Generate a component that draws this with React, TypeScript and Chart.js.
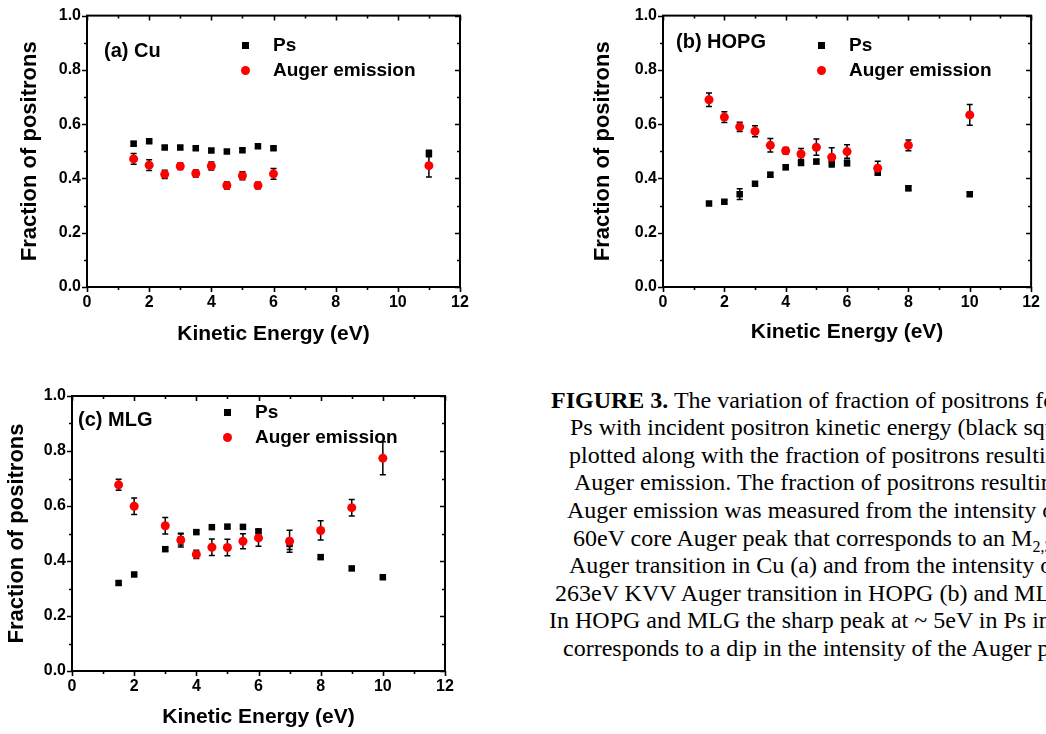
import React, { useEffect, useRef } from 'react';
import { Chart, registerables } from 'chart.js';

Chart.register(...registerables);

// ---------- data ----------
const xTickValues = [0, 2, 4, 6, 8, 10, 12];
const xTickLabels = ['0', '2', '4', '6', '8', '10', '12'];
const yTickValues = [0, 0.2, 0.4, 0.6, 0.8, 1.0];
const yTickLabels = ['0.0', '0.2', '0.4', '0.6', '0.8', '1.0'];

const seriesNames = ['Ps', 'Auger emission'];

const cuEnergy = [1.5, 2, 2.5, 3, 3.5, 4, 4.5, 5, 5.5, 6, 11];
const cuPs = [0.528, 0.537, 0.514, 0.514, 0.511, 0.503, 0.499, 0.504, 0.519, 0.511, 0.492];
const cuPsErr = [0.008, 0.006, 0.006, 0.006, 0.006, 0.006, 0.006, 0.006, 0.006, 0.006, 0.012];
const cuAuger = [0.472, 0.449, 0.415, 0.445, 0.418, 0.446, 0.374, 0.41, 0.374, 0.417, 0.447];
const cuAugerErr = [0.02, 0.02, 0.015, 0.012, 0.013, 0.015, 0.013, 0.015, 0.012, 0.02, 0.042];

const hopgEnergy = [1.5, 2, 2.5, 3, 3.5, 4, 4.5, 5, 5.5, 6, 7, 8, 10];
const hopgPs = [0.308, 0.314, 0.342, 0.38, 0.414, 0.441, 0.458, 0.462, 0.458, 0.457, 0.424, 0.364, 0.342];
const hopgPsErr = [0.006, 0.006, 0.02, 0.008, 0.008, 0.008, 0.01, 0.008, 0.015, 0.01, 0.012, 0.008, 0.008];
const hopgAuger = [0.69, 0.626, 0.59, 0.574, 0.522, 0.502, 0.49, 0.515, 0.478, 0.499, 0.438, 0.522, 0.634];
const hopgAugerErr = [0.025, 0.02, 0.017, 0.02, 0.025, 0.012, 0.02, 0.03, 0.035, 0.025, 0.025, 0.02, 0.038];

const mlgEnergy = [1.5, 2, 3, 3.5, 4, 4.5, 5, 5.5, 6, 7, 8, 9, 10];
const mlgPs = [0.32, 0.351, 0.443, 0.478, 0.505, 0.523, 0.525, 0.524, 0.508, 0.462, 0.414, 0.373, 0.341];
const mlgPsErr = [0.006, 0.006, 0.006, 0.02, 0.006, 0.006, 0.006, 0.006, 0.006, 0.02, 0.006, 0.006, 0.006];
const mlgAuger = [0.677, 0.599, 0.528, 0.476, 0.424, 0.45, 0.449, 0.472, 0.484, 0.472, 0.511, 0.594, 0.774];
const mlgAugerErr = [0.02, 0.03, 0.03, 0.025, 0.015, 0.03, 0.03, 0.027, 0.03, 0.04, 0.035, 0.03, 0.06];

const captionLines: { t: string; bold?: boolean; sub?: boolean }[][] = [
  [{ t: 'FIGURE 3.', bold: true }, { t: ' The variation of fraction of positrons for' }],
  [{ t: 'Ps with incident positron kinetic energy (black squares' }],
  [{ t: 'plotted along with the fraction of positrons resulting' }],
  [{ t: 'Auger emission. The fraction of positrons resulting' }],
  [{ t: 'Auger emission was measured from the intensity of' }],
  [{ t: '60eV core Auger peak that corresponds to an M' }, { t: '2,3', sub: true }],
  [{ t: 'Auger transition in Cu (a) and from the intensity of' }],
  [{ t: '263eV KVV Auger transition in HOPG (b) and MLG' }],
  [{ t: 'In HOPG and MLG the sharp peak at ~ 5eV in Ps in' }],
  [{ t: 'corresponds to a dip in the intensity of the Auger peak' }],
];

// ---------- styling / layout ----------
const SANS = "'Liberation Sans', Arial, Helvetica, sans-serif";
const SERIF = "'Liberation Serif', 'Times New Roman', Times, serif";
const X_TITLE_SIZE = 21;
const Y_TITLE_SIZE = 22;
const TICK_SIZE = 16;

const errorBarPlugin = {
  id: 'errorBars',
  beforeDatasetsDraw(chart: any) {
    const { ctx } = chart;
    const xs = chart.scales.x;
    const ys = chart.scales.y;
    ctx.save();
    ctx.strokeStyle = '#000';
    ctx.lineWidth = 1.5;
    chart.data.datasets.forEach((ds: any) => {
      const errs: number[] | undefined = ds.errors;
      if (!errs) return;
      ds.data.forEach((p: any, j: number) => {
        const e = errs[j];
        const px = xs.getPixelForValue(p.x);
        const y1 = ys.getPixelForValue(p.y + e);
        const y2 = ys.getPixelForValue(p.y - e);
        ctx.beginPath();
        ctx.moveTo(px, y1);
        ctx.lineTo(px, y2);
        ctx.moveTo(px - 3, y1);
        ctx.lineTo(px + 3, y1);
        ctx.moveTo(px - 3, y2);
        ctx.lineTo(px + 3, y2);
        ctx.stroke();
      });
    });
    ctx.restore();
  },
};

const frameTicksPlugin = {
  id: 'frameTicks',
  afterDraw(chart: any) {
    const { ctx, chartArea } = chart;
    const { left, right, top, bottom } = chartArea;
    const xs = chart.scales.x;
    const ys = chart.scales.y;
    const xMaj: number[] = xs.ticks.map((t: any) => t.value);
    const yMaj: number[] = ys.ticks.map((t: any) => t.value);
    const mids = (a: number[]) => a.slice(1).map((v, i) => (v + a[i]) / 2);
    ctx.save();
    ctx.strokeStyle = '#000';
    ctx.lineWidth = 1.6;
    const drawX = (vals: number[], len: number) => {
      vals.forEach((v) => {
        const px = Math.round(xs.getPixelForValue(v)) + 0.5;
        ctx.beginPath();
        ctx.moveTo(px, bottom);
        ctx.lineTo(px, bottom + len);
        ctx.moveTo(px, top);
        ctx.lineTo(px, top + len);
        ctx.stroke();
      });
    };
    const drawY = (vals: number[], len: number) => {
      vals.forEach((v) => {
        const py = Math.round(ys.getPixelForValue(v)) + 0.5;
        ctx.beginPath();
        ctx.moveTo(left, py);
        ctx.lineTo(left - len, py);
        ctx.moveTo(right, py);
        ctx.lineTo(right - len, py);
        ctx.stroke();
      });
    };
    drawX(xMaj, 5);
    drawX(mids(xMaj), 3);
    drawY(yMaj, 5);
    drawY(mids(yMaj), 3);
    ctx.lineWidth = 2;
    ctx.strokeRect(left, top, right - left, bottom - top);
    ctx.restore();
  },
};

interface PanelProps {
  label: string;
  energy: number[];
  ps: number[];
  psErr: number[];
  auger: number[];
  augerErr: number[];
  canvas: { left: number; top: number; width: number; height: number };
  area: { L: number; T: number; R: number; B: number };
  yTitleX: number;
  xTitleY: number;
  labelPos: { x: number; y: number };
  legend: { mx: number; tx: number; y1: number; y2: number };
}

function Panel(p: PanelProps) {
  const ref = useRef<HTMLCanvasElement | null>(null);
  useEffect(() => {
    if (!ref.current) return;
    const { canvas, area } = p;
    const yAxisWidth = area.L - canvas.left;
    const xAxisHeight = canvas.top + canvas.height - area.B;
    const yTitlePad = p.yTitleX - canvas.left - (Y_TITLE_SIZE * 1.2) / 2;
    const xTitlePad = canvas.top + canvas.height - p.xTitleY - (X_TITLE_SIZE * 1.2) / 2;
    const chart = new Chart(ref.current, {
      type: 'scatter',
      data: {
        datasets: [
          {
            label: seriesNames[1],
            data: p.energy.map((x, i) => ({ x, y: p.auger[i] })),
            errors: p.augerErr,
            pointStyle: 'circle',
            pointRadius: 4.5,
            pointBackgroundColor: '#ff0000',
            pointBorderWidth: 0,
            showLine: false,
            order: 0,
          } as any,
          {
            label: seriesNames[0],
            data: p.energy.map((x, i) => ({ x, y: p.ps[i] })),
            errors: p.psErr,
            pointStyle: 'rect',
            pointRadius: 4.6,
            pointBackgroundColor: '#000000',
            pointBorderWidth: 0,
            showLine: false,
            order: 1,
          } as any,
        ],
      },
      options: {
        animation: false,
        responsive: false,
        events: [],
        layout: {
          padding: {
            left: 0,
            top: area.T - canvas.top,
            right: canvas.left + canvas.width - area.R,
            bottom: 0,
          },
        },
        plugins: { legend: { display: false }, tooltip: { enabled: false } },
        scales: {
          x: {
            type: 'linear',
            position: 'bottom',
            min: 0,
            max: 12,
            afterBuildTicks: (s: any) => {
              s.ticks = xTickValues.map((v) => ({ value: v }));
            },
            ticks: {
              padding: 6,
              color: '#000',
              maxRotation: 0,
              font: { family: SANS, size: TICK_SIZE, weight: 'bold' },
              callback: (_v: any, i: number) => xTickLabels[i],
            },
            grid: { display: false, drawTicks: false },
            border: { display: false },
            title: {
              display: true,
              text: 'Kinetic Energy (eV)',
              color: '#000',
              font: { family: SANS, size: X_TITLE_SIZE, weight: 'bold', lineHeight: 1.2 },
              padding: { top: 0, bottom: xTitlePad },
            },
            afterFit: (s: any) => {
              s.height = xAxisHeight;
            },
          },
          y: {
            type: 'linear',
            position: 'left',
            min: 0,
            max: 1,
            afterBuildTicks: (s: any) => {
              s.ticks = yTickValues.map((v) => ({ value: v }));
            },
            ticks: {
              padding: 6,
              color: '#000',
              font: { family: SANS, size: TICK_SIZE, weight: 'bold' },
              callback: (_v: any, i: number) => yTickLabels[i],
            },
            grid: { display: false, drawTicks: false },
            border: { display: false },
            title: {
              display: true,
              text: 'Fraction of positrons',
              color: '#000',
              font: { family: SANS, size: Y_TITLE_SIZE, weight: 'bold', lineHeight: 1.2 },
              padding: { top: yTitlePad, bottom: 0 },
            },
            afterFit: (s: any) => {
              s.width = yAxisWidth;
            },
          },
        },
      } as any,
      plugins: [errorBarPlugin, frameTicksPlugin],
    });
    return () => chart.destroy();
  }, []);

  const { canvas, labelPos, legend } = p;
  const textStyle = (size: number): React.CSSProperties => ({
    position: 'absolute',
    fontFamily: SANS,
    fontWeight: 'bold',
    fontSize: size,
    lineHeight: `${size * 1.2}px`,
    whiteSpace: 'nowrap',
    color: '#000',
  });
  return (
    <>
      <canvas
        ref={ref}
        width={canvas.width}
        height={canvas.height}
        style={{
          position: 'absolute',
          left: canvas.left,
          top: canvas.top,
          width: canvas.width,
          height: canvas.height,
        }}
      />
      <div style={{ ...textStyle(20), left: labelPos.x, top: labelPos.y - 12 }}>{p.label}</div>
      <div
        style={{
          position: 'absolute',
          left: legend.mx - 3.5,
          top: legend.y1 - 3.5,
          width: 7,
          height: 7,
          background: '#000',
        }}
      />
      <div style={{ ...textStyle(19), left: legend.tx, top: legend.y1 - 11.4 }}>{seriesNames[0]}</div>
      <div
        style={{
          position: 'absolute',
          left: legend.mx - 4.5,
          top: legend.y2 - 4.5,
          width: 9,
          height: 9,
          borderRadius: '50%',
          background: '#ff0000',
        }}
      />
      <div style={{ ...textStyle(19), left: legend.tx, top: legend.y2 - 11.4 }}>{seriesNames[1]}</div>
    </>
  );
}

const captionStarts = [551, 570, 569, 574, 567, 573, 569, 555, 549, 563];
const captionCenters = [400.5, 428, 455.5, 483, 511, 538.5, 566, 593.5, 621, 648.5];

export default function App() {
  return (
    <div
      style={{
        position: 'absolute',
        left: 0,
        top: 0,
        width: 1046,
        height: 734,
        overflow: 'hidden',
        background: '#fff',
      }}
    >
      <Panel
        label="(a) Cu"
        energy={cuEnergy}
        ps={cuPs}
        psErr={cuPsErr}
        auger={cuAuger}
        augerErr={cuAugerErr}
        canvas={{ left: 0, top: 0, width: 480, height: 360 }}
        area={{ L: 87, T: 12, R: 460, B: 287 }}
        yTitleX={30}
        xTitleY={334}
        labelPos={{ x: 104, y: 50 }}
        legend={{ mx: 245, tx: 273, y1: 45, y2: 70 }}
      />
      <Panel
        label="(b) HOPG"
        energy={hopgEnergy}
        ps={hopgPs}
        psErr={hopgPsErr}
        auger={hopgAuger}
        augerErr={hopgAugerErr}
        canvas={{ left: 580, top: 0, width: 466, height: 360 }}
        area={{ L: 663, T: 12, R: 1036, B: 287 }}
        yTitleX={603}
        xTitleY={332}
        labelPos={{ x: 676, y: 41 }}
        legend={{ mx: 821, tx: 849, y1: 45, y2: 70 }}
      />
      <Panel
        label="(c) MLG"
        energy={mlgEnergy}
        ps={mlgPs}
        psErr={mlgPsErr}
        auger={mlgAuger}
        augerErr={mlgAugerErr}
        canvas={{ left: 0, top: 375, width: 470, height: 359 }}
        area={{ L: 72, T: 396, R: 445, B: 671 }}
        yTitleX={17}
        xTitleY={717}
        labelPos={{ x: 78, y: 419 }}
        legend={{ mx: 227, tx: 255, y1: 412, y2: 437 }}
      />
      {captionLines.map((segs, i) => (
        <div
          key={i}
          style={{
            position: 'absolute',
            left: captionStarts[i],
            top: captionCenters[i] - 12.7,
            fontFamily: SERIF,
            fontSize: 24,
            lineHeight: '25px',
            whiteSpace: 'nowrap',
            color: '#000',
          }}
        >
          {segs.map((s, j) =>
            s.sub ? (
              <sub key={j} style={{ fontSize: 16, verticalAlign: 'sub', lineHeight: 0 }}>
                {s.t}
              </sub>
            ) : (
              <span key={j} style={{ fontWeight: s.bold ? 'bold' : 'normal' }}>
                {s.t}
              </span>
            )
          )}
        </div>
      ))}
    </div>
  );
}
